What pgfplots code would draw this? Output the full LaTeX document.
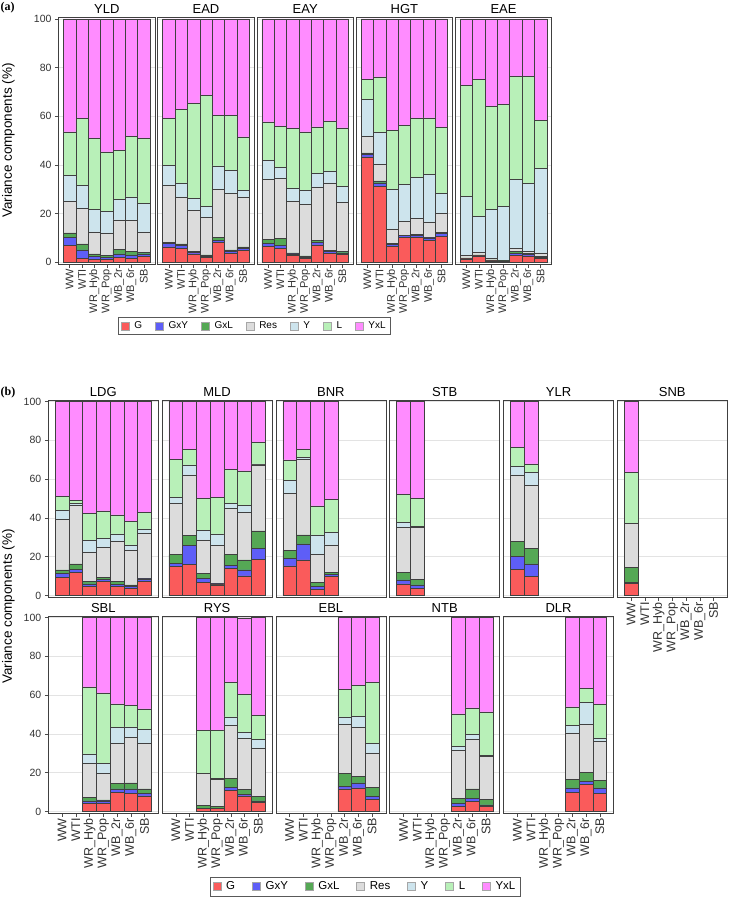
\documentclass[border=0pt]{standalone}
\usepackage{fontspec}
\setmainfont{Liberation Sans}
\newfontfamily\serifb{Liberation Serif}
\usepackage{pgfplots}
\usepackage{pgfplotstable}
\pgfplotsset{compat=1.18}
\definecolor{cG}{HTML}{FA5B5B}
\definecolor{cGY}{HTML}{5E5EF7}
\definecolor{cGL}{HTML}{55A855}
\definecolor{cRes}{HTML}{DCDCDC}
\definecolor{cY}{HTML}{CDE4ED}
\definecolor{cL}{HTML}{B8F0B8}
\definecolor{cYL}{HTML}{FF8CFF}

% ---------- panel (a) ----------
\pgfplotstableread{
x G GxY GxL Res Y L YxL
1 7 3 2 13 10.7 17.9 46.4
2 1.6 3.4 2.5 14.5 9.6 27.4 41
3 1.2 1.1 1.1 9 9.2 29.2 49.2
4 1 0.8 0.9 9.3 9 24.3 54.7
5 2 1.4 1.8 12.2 8.4 20.2 54
6 1.4 1.6 1.4 12.8 9.6 24.8 48.4
7 2.3 1.1 0.7 8.3 11.6 26.8 49.2
}\tYLD
\pgfplotstableread{
x G GxY GxL Res Y L YxL
1 6.2 1.4 0.4 23.6 8.2 19.2 41
2 5.5 1.4 0.6 19.3 5.8 30.3 37.1
3 3.4 0.7 0.4 16.8 4.8 39.1 34.8
4 1.8 0.5 0.7 15.5 4.5 45.7 31.3
5 8.2 0.7 1.1 20 9.6 20.8 39.6
6 3.7 0.8 0.5 23.2 9.6 22.6 39.6
7 4.8 0.7 0.7 20.6 2.7 22 48.5
}\tEAD
\pgfplotstableread{
x G GxY GxL Res Y L YxL
1 6.6 1.2 1.4 24.7 8 15.8 42.3
2 5.5 1.4 2.7 24.7 4.6 17 44.1
3 2.7 0.7 0.4 21.3 5.4 24.4 45.1
4 1.4 0.6 0.5 21.3 5.7 24.1 46.4
5 7.1 0.9 0.9 22 5.5 19.2 44.4
6 3.7 0.8 0.3 27.8 4.9 20.5 42
7 3.2 0.6 0.6 20.3 6.5 24 44.8
}\tEAY
\pgfplotstableread{
x G GxY GxL Res Y L YxL
1 43.3 1.1 0.5 6.9 15.2 8.1 24.9
2 31.2 1.4 0.8 6.7 13.1 23 23.8
3 6.6 0.7 0.3 6.1 16.2 24.4 45.7
4 10.3 0.6 0.2 5.7 15.2 24.3 43.7
5 10 1 0.3 6.6 16.9 24.3 40.9
6 8.9 1 0.4 6.2 19.6 23.2 40.7
7 10.7 1 0.4 7.8 8.3 27.2 44.6
}\tHGT
\pgfplotstableread{
x G GxY GxL Res Y L YxL
1 1.3 0.2 0.2 1.0 24.2 45.9 27.2
2 2.5 0.3 0.2 1.0 14.9 56.2 24.9
3 0.5 0.2 0.2 0.6 20.2 42.4 35.9
4 0.3 0.1 0.1 0.3 22.2 41.8 35.2
5 2.9 0.7 0.7 1.2 28.5 42.5 23.5
6 2.5 0.6 0.5 0.9 27.9 44.1 23.5
7 1.5 0.4 0.3 1.6 34.7 19.9 41.6
}\tEAE
% ---------- panel (b) ----------
\pgfplotstableread{
x G GxY GxL Res Y L YxL
1 9.3 2.2 1.7 26.1 4.5 7.2 49
2 11.9 1.7 2.7 30.1 1 1.6 51
3 4.6 1.4 1.2 15.3 6 13.9 57.6
4 7.2 1.2 1.1 15.2 4.9 14 56.4
5 4.6 1.2 1.4 20.6 4 9.8 58.4
6 3.6 1 0.9 18 2.6 12 61.9
7 7.2 1.4 0.3 23.2 2.3 8.6 57
}\tLDG
\pgfplotstableread{
x G GxY GxL Res Y L YxL
1 14.9 1.8 4.3 26.3 3.4 19.6 29.7
2 16.2 9.6 5.1 31.3 5.2 8 24.6
3 6.7 2.2 2.6 17.2 4.8 16.7 49.8
4 5.5 0.5 0.4 19.4 6 18.7 49.5
5 14.1 1.4 5.5 24 2.6 17.5 34.9
6 10.1 3.1 5.2 24.4 3.6 17.9 35.7
7 18.7 5.7 8.9 34.1 0.5 11 21.1
}\tMLD
\pgfplotstableread{
x G GxY GxL Res Y L YxL
1 15.3 3.9 4 29.5 6.6 10.6 30.1
2 18.4 8.2 4.7 39 0.8 4.3 24.6
3 3.3 1.3 2.1 14.3 10.3 14.9 53.8
4 9.8 0.9 1.2 14.2 6.5 17.1 50.3
}\tBNR
\pgfplotstableread{
x G GxY GxL Res Y L YxL
1 6 2.1 3.9 23.2 2.4 14.6 47.8
2 3.8 1.7 2.9 26.6 0.7 14.5 49.8
}\tSTB
\pgfplotstableread{
x G GxY GxL Res Y L YxL
1 13.6 6.5 7.7 34.4 4.3 10 23.5
2 9.8 6.5 7.8 32.6 6.9 4.3 32.1
}\tYLR
\pgfplotstableread{
x G GxY GxL Res Y L YxL
1 6.4 0.6 7.6 22.7 0 26.1 36.6
}\tSNB
\pgfplotstableread{
x G GxY GxL Res Y L YxL
3 4 1.5 1.7 17.5 5 34.6 35.7
4 4.3 1.2 0.5 13.8 4.9 36.5 38.8
5 9.8 1.8 2.7 21 8.1 12.1 44.5
6 9.5 2.2 3 23.7 5.2 11.2 45.2
7 8.1 1.4 2.2 23.6 6.9 10.7 47.1
}\tSBL
\pgfplotstableread{
x G GxY GxL Res Y L YxL
3 1.4 0.3 1.4 16.4 0.3 21.9 58.3
4 1.4 0.3 0.9 13.8 0.5 24.8 58.3
5 10.9 1.7 4.6 27.1 4.5 17.9 33.3
6 8.1 0.9 2.5 26.3 3.1 19.3 39.7
7 4.8 0.7 2.3 25 4.3 12.6 50.3
}\tRYS
\pgfplotstableread{
x G GxY GxL Res Y L YxL
5 11.6 1.3 6.6 25.3 4 14.1 37.1
6 12.1 2.6 3.4 25.3 5.7 15.9 35
7 6.4 1.4 4.8 17.6 4.8 31.7 33.3
}\tEBL
\pgfplotstableread{
x G GxY GxL Res Y L YxL
5 2.6 1.4 2.9 24.5 2.2 16.7 49.7
6 5.2 1.7 4.7 25.8 2.3 13.7 46.6
7 2.6 0.8 3 22 0.4 22.6 48.6
}\tNTB
\pgfplotstableread{
x G GxY GxL Res Y L YxL
5 9.8 2.3 4.3 24.1 3.8 9.7 46
6 13.8 1.7 4.7 24.6 11.6 6.9 36.7
7 9.5 2.6 3.8 20.3 1.7 17.3 44.8
}\tDLR

\newcommand\stack[1]{%
\addplot[fill=cG] table[x=x,y=G]{#1};
\addplot[fill=cGY] table[x=x,y=GxY]{#1};
\addplot[fill=cGL] table[x=x,y=GxL]{#1};
\addplot[fill=cRes] table[x=x,y=Res]{#1};
\addplot[fill=cY] table[x=x,y=Y]{#1};
\addplot[fill=cL] table[x=x,y=L]{#1};
\addplot[fill=cYL] table[x=x,y=YxL]{#1};
}

\pgfplotsset{
  facet/.style={
    scale only axis, ybar stacked, bar width=1, enlargelimits=false,
    ymin=-0.8, ymax=100.8,
    ytick={0,20,40,60,80,100}, yticklabels={},
    xtick={1,2,3,4,5,6,7}, xticklabels={},
    ymajorgrids, grid style={draw=black!11, line width=0.5pt},
    axis line style={draw=black!75, line width=0.7pt},
    tick align=outside, major tick length=3.5pt,
    xtick pos=bottom, ytick pos=left,
    xtick style={draw=none}, ytick style={draw=none},
    title style={at={(0.5,1)}, anchor=base, yshift=-2.5pt, font=\fontsize{13}{14}\selectfont},
    tick label style={font=\fontsize{10.5}{11}\selectfont, text=black!80},
    every axis plot/.append style={draw=black!75, line width=0.5pt},
  },
  pa/.style={facet, width=96.5pt, height=247pt, xmin=0.1, xmax=7.9},
  pb/.style={facet, width=110pt, height=197pt, xmin=0, xmax=8},
  withx/.style={xticklabels={WW,WTI,WR\_Hyb,WR\_Pop,WB\_2r,WB\_6r,SB},
    xtick style={draw=black!70, line width=0.5pt},
    x tick label style={rotate=90, anchor=east, inner sep=1.5pt, font=\fontsize{#1}{#1}\selectfont}},
  withy/.style={yticklabels={0,20,40,60,80,100},
    ytick style={draw=black!70, line width=0.5pt}},
  leg/.style={legend columns=7,
    legend image code/.code={\draw[##1,draw=black!35,line width=0.4pt] (0pt,-4pt) rectangle (8pt,4pt);},
    legend style={draw=black!65, line width=0.5pt, inner sep=2.5pt,
      /tikz/every odd column/.append style={column sep=3pt},
      /tikz/every even column/.append style={column sep=#1}}},
}

\begin{document}
\begin{tikzpicture}
\path[use as bounding box] (0pt,0pt) rectangle (729pt,-897pt);
% panel labels and y-axis titles
\node[font=\serifb\bfseries\fontsize{12}{13}\selectfont, anchor=west, inner sep=0pt] at (0.5pt,-7.5pt) {(a)};
\node[font=\serifb\bfseries\fontsize{12}{13}\selectfont, anchor=west, inner sep=0pt] at (0.5pt,-393pt) {(b)};
\node[rotate=90, font=\fontsize{13.5}{14}\selectfont, inner sep=0pt] at (8.5pt,-140.5pt) {Variance components (\%)};
\node[rotate=90, font=\fontsize{13.5}{14}\selectfont, inner sep=0pt] at (8.5pt,-606.5pt) {Variance components (\%)};

% ===== panel (a) =====
\begin{axis}[pa, withx=11, withy, at={(58.5pt,-264pt)}, anchor=south west, title={YLD},
  leg=11pt, legend entries={G,GxY,GxL,Res,Y,L,YxL},
  legend style={at={(2.03,-0.251)}, anchor=center, font=\fontsize{10}{11}\selectfont}]
\stack{\tYLD}
\end{axis}
\begin{axis}[pa, withx=11, at={(157.7pt,-264pt)}, anchor=south west, title={EAD}]
\stack{\tEAD}
\end{axis}
\begin{axis}[pa, withx=11, at={(256.9pt,-264pt)}, anchor=south west, title={EAY}]
\stack{\tEAY}
\end{axis}
\begin{axis}[pa, withx=11, at={(356.1pt,-264pt)}, anchor=south west, title={HGT}]
\stack{\tHGT}
\end{axis}
\begin{axis}[pa, withx=11, at={(455.3pt,-264pt)}, anchor=south west, title={EAE}]
\stack{\tEAE}
\end{axis}

% ===== panel (b), top row =====
\begin{axis}[pb, withy, at={(48.3pt,-597pt)}, anchor=south west, title={LDG}]
\stack{\tLDG}
\end{axis}
\begin{axis}[pb, at={(162.1pt,-597pt)}, anchor=south west, title={MLD}]
\stack{\tMLD}
\end{axis}
\begin{axis}[pb, at={(275.9pt,-597pt)}, anchor=south west, title={BNR}]
\stack{\tBNR}
\end{axis}
\begin{axis}[pb, at={(389.7pt,-597pt)}, anchor=south west, title={STB}]
\stack{\tSTB}
\end{axis}
\begin{axis}[pb, at={(503.5pt,-597pt)}, anchor=south west, title={YLR}]
\stack{\tYLR}
\end{axis}
\begin{axis}[pb, withx=12.5, at={(617.3pt,-597pt)}, anchor=south west, title={SNB}]
\stack{\tSNB}
\end{axis}

% ===== panel (b), bottom row =====
\begin{axis}[pb, withx=12.5, withy, at={(48.3pt,-813pt)}, anchor=south west, title={SBL},
  leg=15pt, legend entries={G,GxY,GxL,Res,Y,L,YxL},
  legend style={at={(2.88,-0.373)}, anchor=center, font=\fontsize{11.5}{12}\selectfont}]
\stack{\tSBL}
\end{axis}
\begin{axis}[pb, withx=12.5, at={(162.1pt,-813pt)}, anchor=south west, title={RYS}]
\stack{\tRYS}
\end{axis}
\begin{axis}[pb, withx=12.5, at={(275.9pt,-813pt)}, anchor=south west, title={EBL}]
\stack{\tEBL}
\end{axis}
\begin{axis}[pb, withx=12.5, at={(389.7pt,-813pt)}, anchor=south west, title={NTB}]
\stack{\tNTB}
\end{axis}
\begin{axis}[pb, withx=12.5, at={(503.5pt,-813pt)}, anchor=south west, title={DLR}]
\stack{\tDLR}
\end{axis}
\end{tikzpicture}
\end{document}
